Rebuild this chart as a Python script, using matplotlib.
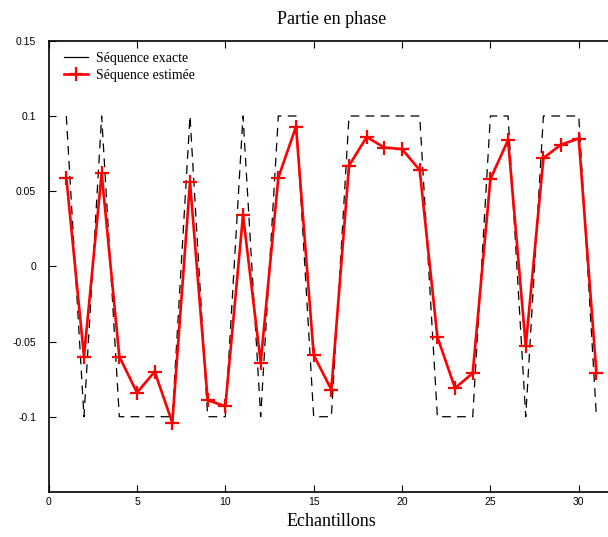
import numpy as np
import matplotlib
matplotlib.use("Agg")
import matplotlib.pyplot as plt
from matplotlib.lines import Line2D

samples = list(range(1, 32))
exact = [0.1, -0.1, 0.1, -0.1, -0.1, -0.1, -0.1, 0.1, -0.1, -0.1,
         0.1, -0.1, 0.1, 0.1, -0.1, -0.1, 0.1, 0.1, 0.1, 0.1,
         0.1, -0.1, -0.1, -0.1, 0.1, 0.1, -0.1, 0.1, 0.1, 0.1, -0.1]
estimated = [0.059, -0.060, 0.062, -0.060, -0.084, -0.070, -0.104, 0.056, -0.089, -0.093,
             0.034, -0.064, 0.059, 0.093, -0.059, -0.082, 0.067, 0.086, 0.079, 0.078,
             0.064, -0.047, -0.081, -0.071, 0.058, 0.084, -0.053, 0.072, 0.081, 0.085, -0.071]
yticks = [-0.1, -0.05, 0, 0.05, 0.1, 0.15]
ytick_labels = ["-0.1", "-0.05", "0", "0.05", "0.1", "0.15"]

serif = ["Liberation Serif", "DejaVu Serif"]
sans = ["Liberation Sans", "DejaVu Sans"]

fig = plt.figure(figsize=(6.08, 5.37), dpi=100)
ax = fig.add_axes([0.080, 0.084, 0.930, 0.840])

ax.plot(samples, exact, color="black", lw=0.9, dashes=(7, 5))
ax.plot(samples, estimated, color="red", lw=1.9, marker="+", ms=10, mew=1.6)

ax.set_xlim(0, 32)
ax.set_ylim(-0.15, 0.15)
ax.set_xticks([0, 5, 10, 15, 20, 25, 30])
ax.set_yticks(yticks)
ax.set_yticklabels(ytick_labels)
for lab in ax.get_xticklabels() + ax.get_yticklabels():
    lab.set_family(sans)
    lab.set_fontsize(7.5)
ax.tick_params(direction="in", length=5, width=0.8, top=True, right=False, pad=4)
ax.tick_params(axis="y", pad=9)
for s in ax.spines.values():
    s.set_linewidth(1.2)

ax.set_title("Partie en phase", family=serif, fontsize=13, pad=12)
ax.set_xlabel("Echantillons", family=serif, fontsize=13, labelpad=4)

handles = [Line2D([], [], color="black", lw=0.9),
           Line2D([], [], color="red", lw=1.9, marker="+", ms=10, mew=1.6)]
ax.legend(handles, ["Séquence exacte", "Séquence estimée"], loc="upper left",
          frameon=False, prop={"family": serif, "size": 10}, handlelength=1.7,
          handletextpad=0.6, borderaxespad=0.4, labelspacing=0.3,
          bbox_to_anchor=(0.008, 1.0))

fig.savefig("out.png", dpi=100)
